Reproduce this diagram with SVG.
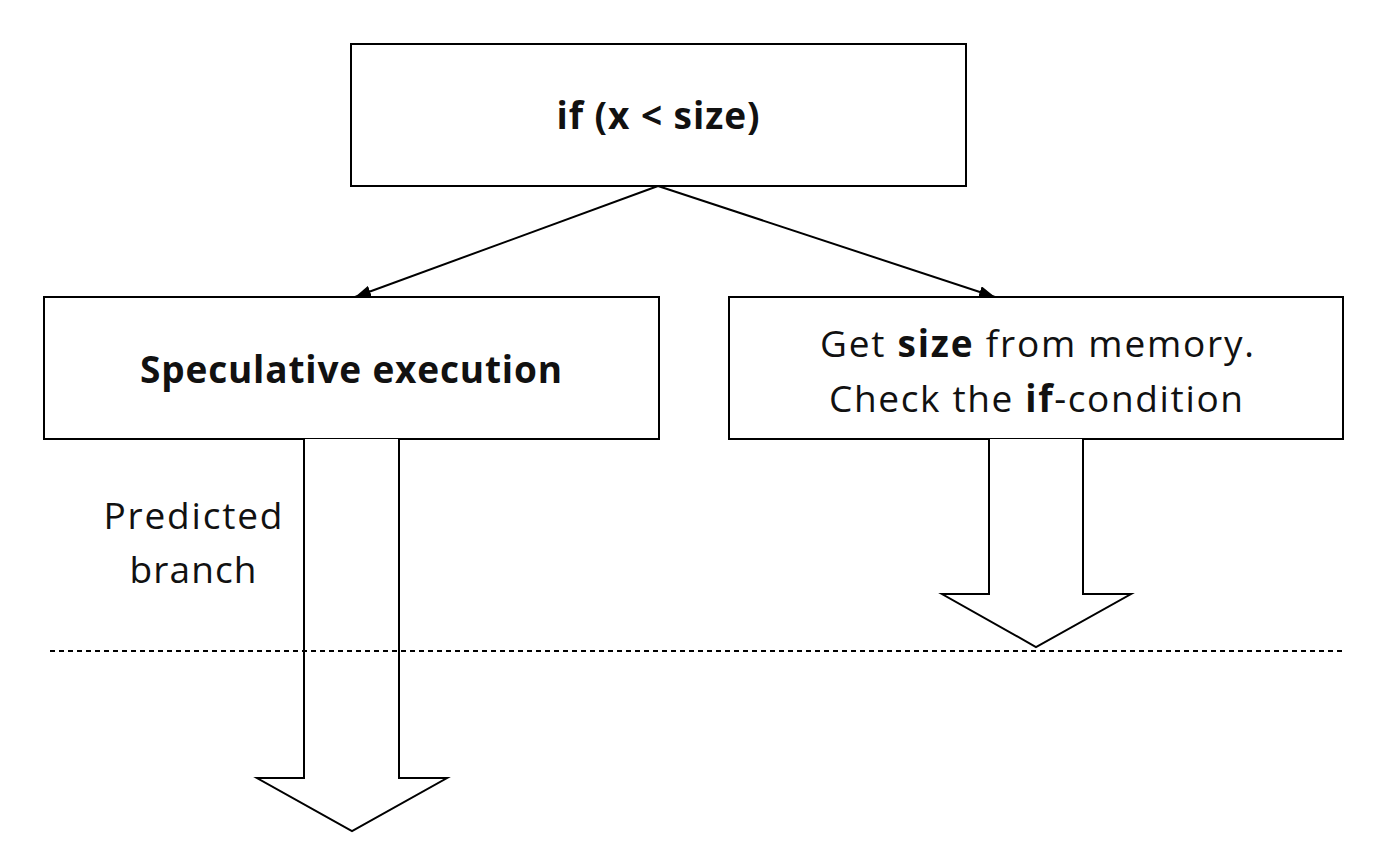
<svg xmlns="http://www.w3.org/2000/svg" width="1374" height="846" viewBox="0 0 1374 846">
<defs>
<style>
.box{fill:#fff;stroke:#000;stroke-width:2}
.t{font-family:"Open Sans","Noto Sans",sans-serif;font-size:37px;fill:#111;text-anchor:middle}
.b{font-weight:bold}
.conn{stroke:#000;stroke-width:2;fill:none}
.blk{fill:#fff;stroke:#000;stroke-width:2;stroke-linejoin:miter}
</style>
<marker id="ah" viewBox="0 0 16 12" refX="16" refY="6" markerWidth="16" markerHeight="12" markerUnits="userSpaceOnUse" orient="auto">
<path d="M0,0 L16,6 L0,12 z" fill="#000"/>
</marker>
</defs>
<rect width="1374" height="846" fill="#fff"/>
<g id="cond">
<rect class="box" x="351" y="44" width="615" height="142"/>
<text class="t b" x="658" y="129" textLength="203" lengthAdjust="spacing">if (x &lt; size)</text>
</g>
<g id="spec">
<rect class="box" x="44" y="297" width="615" height="142"/>
<text class="t b" x="351" y="383" textLength="422" lengthAdjust="spacing">Speculative execution</text>
</g>
<g id="check">
<rect class="box" x="729" y="297" width="614" height="142"/>
<text class="t" x="1037" y="357" textLength="434" lengthAdjust="spacing">Get <tspan class="b">size</tspan> from memory.</text>
<text class="t" x="1036" y="412" textLength="414" lengthAdjust="spacing">Check the <tspan class="b">if</tspan>-condition</text>
</g>
<g id="connectors">
<line class="conn" x1="658" y1="186" x2="355" y2="297" marker-end="url(#ah)"/>
<line class="conn" x1="658" y1="186" x2="995" y2="297" marker-end="url(#ah)"/>
</g>
<g id="predicted-arrow">
<path class="blk" d="M304,439 L304,778 L257,778 L352,831 L447,778 L399,778 L399,439"/>
<text class="t" x="193" y="529" textLength="179" lengthAdjust="spacing">Predicted</text>
<text class="t" x="193" y="583" textLength="127" lengthAdjust="spacing">branch</text>
</g>
<g id="check-arrow">
<path class="blk" d="M989,439 L989,594 L942,594 L1036,647 L1131,594 L1083,594 L1083,439"/>
</g>
<line x1="50" y1="651" x2="1343" y2="651" stroke="#000" stroke-width="2" stroke-dasharray="5,4"/>
</svg>
